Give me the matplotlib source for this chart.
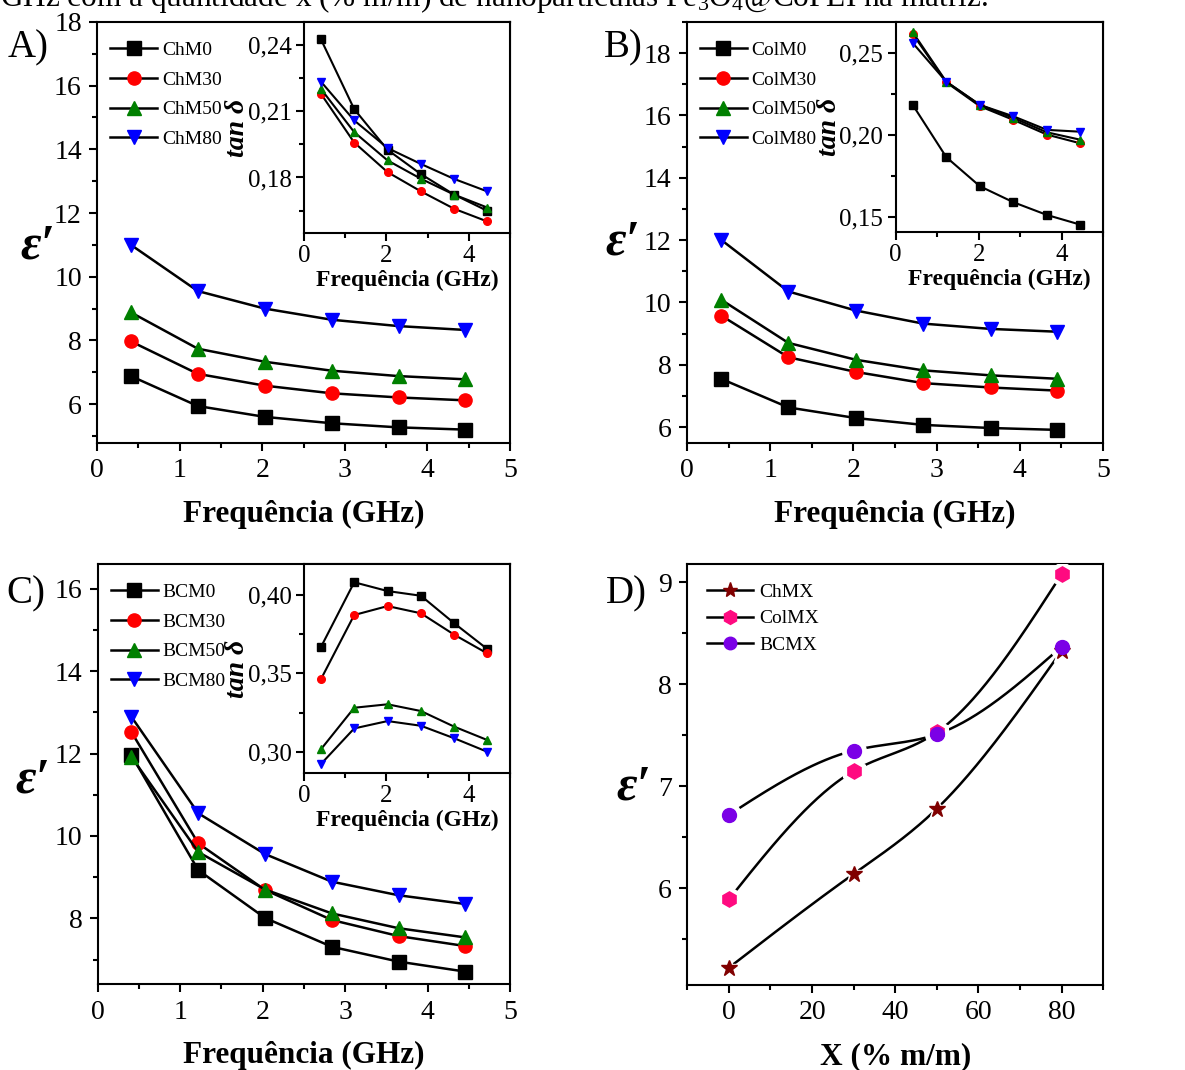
import matplotlib
matplotlib.use("Agg")
import matplotlib.pyplot as plt
from matplotlib.lines import Line2D
from matplotlib.ticker import MultipleLocator, FuncFormatter
import numpy as np

plt.rcParams['font.family'] = ['Liberation Serif', 'DejaVu Serif']
plt.rcParams['mathtext.fontset'] = 'custom'
plt.rcParams['mathtext.rm'] = 'Liberation Serif'
plt.rcParams['mathtext.it'] = 'Liberation Serif:italic'
plt.rcParams['mathtext.bf'] = 'Liberation Serif:bold'

# frequency points (GHz)
freq = [0.41, 1.22, 2.03, 2.84, 3.65, 4.45]

# A) chitosan matrix - permittivity
chm_eps = {
    'ChM0': [6.88, 5.94, 5.60, 5.40, 5.27, 5.20],
    'ChM30': [7.97, 6.95, 6.58, 6.34, 6.21, 6.12],
    'ChM50': [8.88, 7.74, 7.33, 7.05, 6.88, 6.78],
    'ChM80': [11.0, 9.55, 9.00, 8.65, 8.45, 8.33],
}
chm_tan = {
    'ChM0': [0.2426, 0.2109, 0.1925, 0.1815, 0.1722, 0.1649],
    'ChM30': [0.2179, 0.1958, 0.1824, 0.1737, 0.1658, 0.1601],
    'ChM50': [0.2201, 0.2005, 0.1877, 0.1794, 0.1722, 0.1664],
    'ChM80': [0.2234, 0.2058, 0.1933, 0.1861, 0.1793, 0.1737],
}

# B) collagen matrix
colm_eps = {
    'ColM0': [7.55, 6.63, 6.29, 6.07, 5.97, 5.91],
    'ColM30': [9.58, 8.24, 7.77, 7.41, 7.27, 7.17],
    'ColM50': [10.09, 8.70, 8.16, 7.82, 7.66, 7.55],
    'ColM80': [12.01, 10.35, 9.74, 9.32, 9.15, 9.06],
}
colm_tan = {
    'ColM0': [0.2184, 0.1864, 0.1686, 0.1588, 0.1510, 0.1451],
    'ColM30': [0.2618, 0.2322, 0.2176, 0.2092, 0.2002, 0.1949],
    'ColM50': [0.2629, 0.2326, 0.2184, 0.2104, 0.2016, 0.1971],
    'ColM80': [0.2563, 0.2326, 0.2184, 0.2114, 0.2031, 0.2020],
}

# C) bacterial cellulose matrix
bcm_eps = {
    'BCM0': [11.96, 9.17, 8.01, 7.31, 6.95, 6.71],
    'BCM30': [12.52, 9.82, 8.69, 7.96, 7.57, 7.33],
    'BCM50': [11.92, 9.61, 8.70, 8.12, 7.76, 7.54],
    'BCM80': [12.89, 10.55, 9.56, 8.89, 8.56, 8.35],
}
bcm_tan = {
    'BCM0': [0.3667, 0.4082, 0.4026, 0.3996, 0.3820, 0.3656],
    'BCM30': [0.3462, 0.3873, 0.3930, 0.3884, 0.3747, 0.3628],
    'BCM50': [0.3015, 0.3281, 0.3303, 0.3260, 0.3160, 0.3075],
    'BCM80': [0.2921, 0.3149, 0.3196, 0.3166, 0.3086, 0.3000],
}

# D) permittivity at highest frequency vs nanoparticle content
x_content = [0, 30, 50, 80]
chmx = [5.22, 6.14, 6.78, 8.33]
colmx = [5.89, 7.15, 7.53, 9.08]
bcmx = [6.72, 7.35, 7.51, 8.37]

styles = [('s', 'black'), ('o', 'red'), ('^', 'green'), ('v', 'blue')]


def comma(v, pos):
    return ('%.2f' % v).replace('.', ',')


def style_axes(ax, size, lw=1.5, pad=5):
    for s in ax.spines.values():
        s.set_linewidth(lw)
    ax.tick_params(which='both', direction='out', top=False, right=False,
                   width=lw, labelsize=size, pad=pad)
    ax.tick_params(which='major', length=6)
    ax.tick_params(which='minor', length=3.5)


def main_panel(rect, data, ylim, yticks, lab_xy):
    ax = fig.add_axes(rect)
    for (name, vals), (m, c) in zip(data.items(), styles):
        ax.plot(freq, vals, color='black', lw=1.8, marker=m, ms=9.5,
                mfc=c, mec=c, label=name)
    ax.set_xlim(0, 5)
    ax.set_ylim(*ylim)
    ax.set_xticks(range(0, 6))
    ax.set_yticks(yticks)
    ax.xaxis.set_minor_locator(MultipleLocator(0.5))
    ax.yaxis.set_minor_locator(MultipleLocator(1))
    style_axes(ax, 20)
    ax.set_xlabel('Frequência (GHz)', fontsize=22.5, fontweight='bold', labelpad=12)
    ax.set_ylabel('ε′', fontsize=36, fontweight='bold', style='italic',
                  rotation=0, va='center', ha='center')
    ax.yaxis.set_label_coords(*lab_xy)
    ax.legend(loc='upper left', bbox_to_anchor=(-0.015, 1.0), frameon=False,
              fontsize=14, handlelength=2.4, labelspacing=0.62,
              handletextpad=0.25, borderaxespad=0.6)
    return ax


def inset_panel(rect, data, ylim, yticks, ymin):
    ax = fig.add_axes(rect)
    for (name, vals), (m, c) in zip(data.items(), styles):
        ax.plot(freq, vals, color='black', lw=1.5, marker=m, ms=5.5,
                mfc=c, mec=c)
    ax.set_xlim(0, 5)
    ax.set_ylim(*ylim)
    ax.set_xticks([0, 2, 4])
    ax.set_yticks(yticks)
    ax.xaxis.set_minor_locator(MultipleLocator(1))
    ax.yaxis.set_minor_locator(MultipleLocator(ymin))
    ax.yaxis.set_major_formatter(FuncFormatter(comma))
    style_axes(ax, 18, pad=3)
    ax.set_xlabel('Frequência (GHz)', fontsize=17, fontweight='bold', labelpad=2)
    ax.set_ylabel('tan δ', fontsize=20, fontweight='bold', style='italic', labelpad=-2)
    return ax


def smooth(x, y, n=200):
    # natural cubic spline through the points, for the connecting line only
    x = np.asarray(x, float)
    y = np.asarray(y, float)
    k = len(x)
    h = np.diff(x)
    A = np.zeros((k, k))
    r = np.zeros(k)
    A[0, 0] = A[-1, -1] = 1
    for i in range(1, k - 1):
        A[i, i - 1] = h[i - 1]
        A[i, i] = 2 * (h[i - 1] + h[i])
        A[i, i + 1] = h[i]
        r[i] = 6 * ((y[i + 1] - y[i]) / h[i] - (y[i] - y[i - 1]) / h[i - 1])
    M = np.linalg.solve(A, r)
    xs = np.linspace(x[0], x[-1], n)
    j = np.clip(np.searchsorted(x, xs) - 1, 0, k - 2)
    t0 = x[j + 1] - xs
    t1 = xs - x[j]
    hj = h[j]
    ys = (M[j] * t0 ** 3 + M[j + 1] * t1 ** 3) / (6 * hj) \
        + (y[j] / hj - M[j] * hj / 6) * t0 + (y[j + 1] / hj - M[j + 1] * hj / 6) * t1
    return xs, ys


fig = plt.figure(figsize=(11.85, 10.70), dpi=100)

fig.text(0.0, 1 - 6 / 1070, 'GHz com a quantidade x (% m/m) de nanopartículas '
         'Fe$_3$O$_4$@CoPEI na matriz.', fontsize=22.5, va='baseline', ha='left')

axA = main_panel([0.0819, 0.586, 0.3485, 0.3935], chm_eps, (4.78, 18),
                 range(6, 19, 2), (-0.143, 0.466))
inA = inset_panel([0.2565, 0.7825, 0.1738, 0.1969], chm_tan, (0.155, 0.2503),
                  [0.18, 0.21, 0.24], 0.015)

axB = main_panel([0.5797, 0.5863, 0.351, 0.3932], colm_eps, (5.5, 19.0),
                 range(6, 19, 2), (-0.154, 0.475))
inB = inset_panel([0.7559, 0.7835, 0.1749, 0.196], colm_tan, (0.1408, 0.2692),
                  [0.15, 0.20, 0.25], 0.025)

axC = main_panel([0.0824, 0.0801, 0.348, 0.3928], bcm_eps, (6.4, 16.6),
                 range(8, 17, 2), (-0.157, 0.486))
inC = inset_panel([0.2565, 0.2778, 0.1738, 0.195], bcm_tan, (0.2866, 0.4198),
                  [0.30, 0.35, 0.40], 0.025)

# D panel
axD = fig.add_axes([0.58, 0.0794, 0.351, 0.3935])
d_series = [('ChMX', chmx, '*', '#800000', 12),
            ('ColMX', colmx, 'h', '#FF0A80', 11),
            ('BCMX', bcmx, 'o', '#7B00E6', 10)]
handles = []
for name, vals, m, c, ms in d_series:
    xs, ys = smooth(x_content, vals)
    axD.plot(xs, ys, color='black', lw=1.8, zorder=2)
    axD.plot(x_content, vals, ls='none', marker=m, ms=ms + 7, color='white', zorder=3)
for name, vals, m, c, ms in d_series:
    axD.plot(x_content, vals, ls='none', marker=m, ms=ms, mfc=c, mec=c, zorder=4)
    handles.append(Line2D([], [], color='black', lw=1.8, marker=m, ms=ms - 1,
                          mfc=c, mec=c, label=name))
axD.set_xlim(-10, 90)
axD.set_ylim(5.05, 9.18)
axD.set_xticks([0, 20, 40, 60, 80])
axD.set_yticks([6, 7, 8, 9])
axD.xaxis.set_minor_locator(MultipleLocator(10))
axD.yaxis.set_minor_locator(MultipleLocator(0.5))
style_axes(axD, 20)
axD.set_xlabel('X (% m/m)', fontsize=22.5, fontweight='bold', labelpad=12)
axD.set_ylabel('ε′', fontsize=36, fontweight='bold', style='italic',
               rotation=0, va='center', ha='center')
axD.yaxis.set_label_coords(-0.13, 0.47)
axD.legend(handles=handles, loc='upper left', bbox_to_anchor=(0.0, 1.0),
           frameon=False, fontsize=14, handlelength=2.4, labelspacing=0.45,
           handletextpad=0.3, borderaxespad=0.6)

# panel letters
for txt, px, py in [('A)', 8, 57), ('B)', 604, 57), ('C)', 6, 603), ('D)', 606, 603)]:
    fig.text(px / 1185, 1 - py / 1070, txt, fontsize=28, va='baseline', ha='left')

fig.savefig('out.png', dpi=100)
